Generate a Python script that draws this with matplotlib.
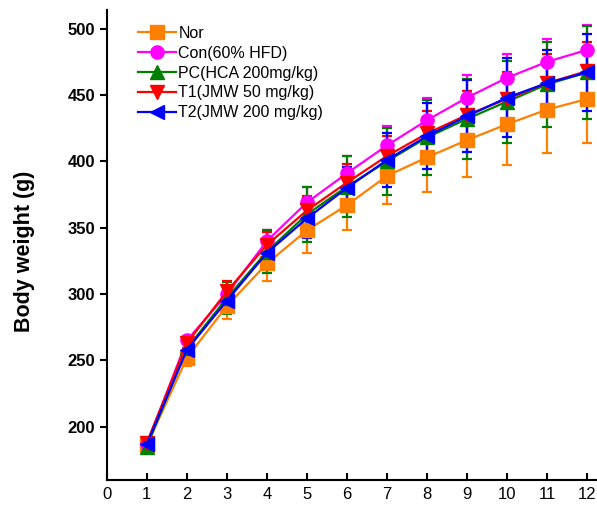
import matplotlib
matplotlib.use("Agg")
import matplotlib.pyplot as plt
import numpy as np

plt.rcParams['font.family'] = ['Liberation Sans', 'DejaVu Sans']

# Data
weeks = np.arange(1, 13)
labels = ["Nor", "Con(60% HFD)", "PC(HCA 200mg/kg)", "T1(JMW 50 mg/kg)", "T2(JMW 200 mg/kg)"]
nor = [186, 252, 291, 323, 348, 367, 389, 403, 416, 428, 439, 447]
con = [187, 265, 300, 340, 369, 391, 412, 431, 448, 463, 475, 484]
pc = [185, 259, 297, 332, 360, 381, 400, 418, 432, 445, 458, 467]
t1 = [188, 263, 302, 337, 363, 384, 404, 421, 435, 447, 459, 468]
t2 = [187, 258, 295, 331, 357, 380, 401, 419, 434, 448, 459, 467]
nor_err = [4, 6, 10, 13, 17, 19, 21, 26, 28, 31, 33, 33]
con_err = [3, 3, 6, 8, 12, 13, 15, 17, 17, 18, 17, 19]
pc_err = [4, 6, 12, 16, 21, 23, 25, 28, 30, 31, 32, 35]
t1_err = [3, 4, 8, 10, 11, 14, 15, 17, 18, 20, 22, 22]
t2_err = [4, 5, 8, 10, 15, 16, 20, 25, 27, 30, 25, 29]

series = [nor, con, pc, t1, t2]
errors = [nor_err, con_err, pc_err, t1_err, t2_err]
colors = ["#FF8000", "#FF00FF", "#008000", "#FF0000", "#0000FF"]
markers = ["s", "o", "^", "v", "<"]

fig = plt.figure(figsize=(5.97, 5.05), dpi=100)
ax = fig.add_axes([0.179, 0.05, 0.821, 0.93])

lines = []
for y, e, c, m, lab in zip(series, errors, colors, markers, labels):
    eb = ax.errorbar(weeks, y, yerr=e, color=c, marker=m, markersize=9.5,
                     linewidth=1.6, elinewidth=1.6, capsize=3.5, capthick=1.6)
    lines.append(eb[0])

ax.set_xlim(0, 12.25)
ax.set_ylim(160, 514)
ax.set_xticks(np.arange(0, 13))
ax.set_yticks([200, 250, 300, 350, 400, 450, 500])
ax.spines['top'].set_visible(False)
ax.spines['right'].set_visible(False)
ax.spines['left'].set_linewidth(1.5)
ax.spines['bottom'].set_linewidth(1.5)
ax.tick_params(axis='x', direction='in', length=5, width=1.5, labelsize=12, pad=5)
ax.tick_params(axis='y', direction='out', length=5, width=1.5, labelsize=12)
for t in ax.get_yticklabels():
    t.set_fontweight('bold')
ax.set_ylabel("Body weight (g)", fontsize=15.5, fontweight='bold')
ax.yaxis.set_label_coords(-0.146, 0.487)

ax.legend(lines, labels, loc='upper left', bbox_to_anchor=(0.04, 0.99), frameon=False,
          fontsize=11.5, labelspacing=0.3, handlelength=2.4, handletextpad=0.15,
          borderaxespad=0.3)

fig.savefig("out.png", dpi=100)
